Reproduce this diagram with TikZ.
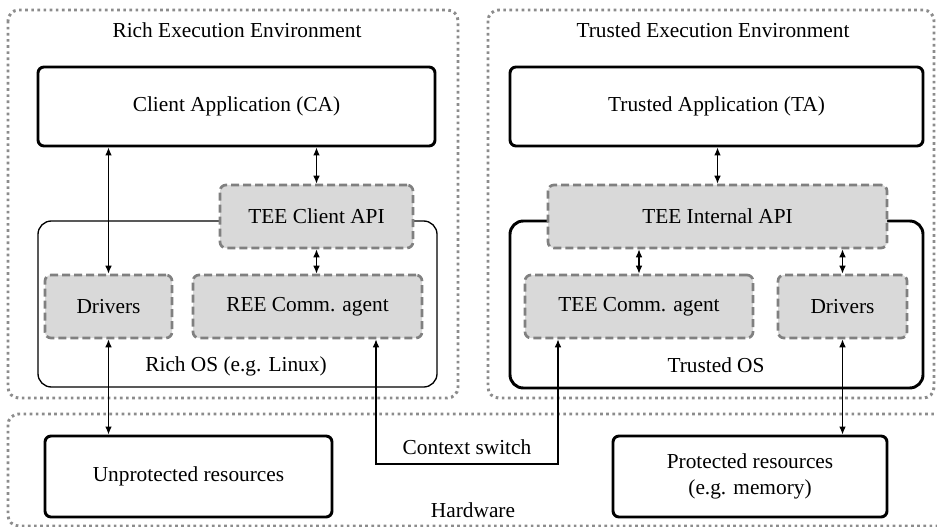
\documentclass[tikz,border=0pt]{standalone}
\usepackage{fontspec}
\setmainfont{Liberation Serif}
\usepackage{tikz}
\usetikzlibrary{positioning}
\usetikzlibrary{arrows.meta}

\begin{document}
\begin{tikzpicture} [<->, >={Latex[length=6pt,width=5pt]}, line width=0.9pt,
            x=0.75pt, y=-0.75pt,
            align=center, font=\fontsize{16}{19}\selectfont]

            \tikzstyle{env} = [draw=black!45, line width=2.2pt, dash pattern=on 2pt off 2.6pt, rounded corners=8pt, -]
            \tikzstyle{app} = [rectangle, draw=black, line width=2.2pt, rounded corners=4.5pt, fill=white]
            \tikzstyle{api} = [rectangle, draw=black!50, fill=black!15, line width=2pt, dash pattern=on 6pt off 3pt, rounded corners=4.5pt]
            \tikzstyle{os} = [draw=black, rounded corners=10pt, -]
            \tikzstyle{label} = [inner sep=0pt]

            \useasboundingbox (0, 0) rectangle (937, 527);

            % environments
            \draw[env] (8, 10) rectangle (458, 398);
            \draw[env] (488, 10) rectangle (934, 398);
            \draw[env] (8, 414) rectangle (1000, 526);
            \node[label](ree) at(237, 30) {Rich Execution Environment};
            \node[label](tee) at(713, 30) {Trusted Execution Environment};
            \node[label](hw) at(473, 510) {Hardware};

            % operating systems
            \draw[os, line width=1pt] (38, 221) rectangle (437, 387);
            \draw[os, line width=2.2pt] (510, 221) rectangle (923, 388);
            \node[label](rich_os) at(236, 366) {Rich OS (e.g. Linux)};
            \node[label](trusted_os) at(716, 365) {Trusted OS};

            % rich side
            \node[app, minimum width=297.75pt, minimum height=59.25pt](ca) at(236.5, 106.5) {Client Application (CA)};
            \node[api, minimum width=144.75pt, minimum height=47.25pt](client_api) at(316.5, 216.5) {TEE Client API};
            \node[api, minimum width=95.25pt, minimum height=47.25pt](drivers_ree) at(108.5, 306.5) {Drivers};
            \node[api, minimum width=171.75pt, minimum height=47.25pt](ree_agent) at(307.5, 306.5) {REE Comm. agent};

            % trusted side
            \node[app, minimum width=309.75pt, minimum height=59.25pt](ta) at(716.5, 106.5) {Trusted Application (TA)};
            \node[api, minimum width=254.25pt, minimum height=47.25pt](internal_api) at(717.5, 216.5) {TEE Internal API};
            \node[api, minimum width=171pt, minimum height=47.25pt](tee_agent) at(639, 306.5) {TEE Comm. agent};
            \node[api, minimum width=96.75pt, minimum height=47.25pt](drivers_tee) at(842.5, 306.5) {Drivers};

            % hardware
            \node[app, minimum width=215.25pt, minimum height=60.75pt](unprotected) at(188.5, 476.5) {Unprotected resources};
            \node[app, minimum width=205.5pt, minimum height=60.75pt](protected) at(750, 476.5) {Protected resources\\(e.g. memory)};

            \coordinate (switch_l) at(376, 464);
            \coordinate (switch_r) at(558, 464);
            \node[label](switch) at(467, 447) {Context switch};

            \draw (ca.south -| drivers_ree) -- (drivers_ree);
            \draw (ca.south -| client_api) -- (client_api);
            \draw (client_api.south) -- (client_api.south |- ree_agent.north);
            \draw (drivers_ree.south) -- (drivers_ree.south |- unprotected.north);
            \draw (ta.south -| internal_api) -- (internal_api);
            \draw (internal_api.south -| tee_agent) -- (tee_agent);
            \draw (internal_api.south -| drivers_tee) -- (drivers_tee);
            \draw (drivers_tee.south) -- (drivers_tee.south |- protected.north);
            \draw (ree_agent.south -| switch_l) -- (switch_l) -- (switch_r) -- (tee_agent.south -| switch_r);
       \end{tikzpicture}
\end{document}
